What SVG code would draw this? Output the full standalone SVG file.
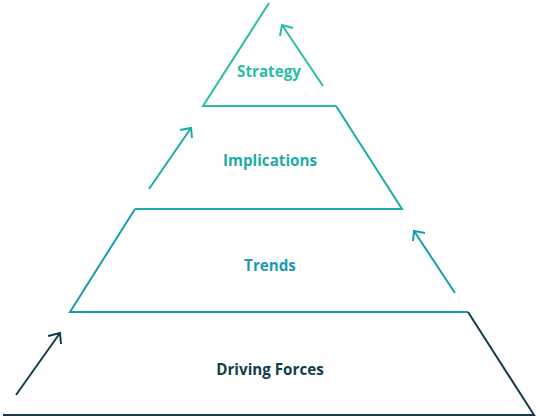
<svg xmlns="http://www.w3.org/2000/svg" width="540" height="420" viewBox="0 0 540 420">
<style>
.ln{fill:none;stroke-width:2;stroke-linecap:butt;stroke-linejoin:miter}
.lbl{font-family:"Open Sans","Noto Sans",sans-serif;font-weight:bold;font-size:15.2px;text-anchor:middle}
.c1{stroke:#2bbda3}.t1{fill:#2bbda3}
.c2{stroke:#1eaba6}.t2{fill:#1eaba6}
.c3{stroke:#1b9bb3}.t3{fill:#1b9bb3}
.c4{stroke:#113e48}.t4{fill:#113e48}
</style>
<rect width="540" height="420" fill="#ffffff"/>
<g id="strategy">
<polyline class="ln c1" points="269,3 203,106 336,106"/>
<text class="lbl t1" x="269" y="77">Strategy</text>
</g>
<g id="implications">
<polyline class="ln c2" points="336,106 402,209 135,209"/>
<text class="lbl t2" x="270" y="166">Implications</text>
</g>
<g id="trends">
<polyline class="ln c3" points="135,209 70,312 468,312"/>
<text class="lbl t3" x="270" y="271">Trends</text>
</g>
<g id="driving-forces">
<polyline class="ln c4" points="468,312 534,415 3,415"/>
<text class="lbl t4" x="270" y="375">Driving Forces</text>
</g>
<g id="connectors">
<path class="ln c1" d="M323,86 L282,25 M293,28 L282,25 L280,36"/>
<path class="ln c2" d="M149,189 L191,128 M180,130 L191,128 L192,138"/>
<path class="ln c3" d="M455,293 L414,231 M425,233 L414,231 L413,241"/>
<path class="ln c4" d="M16,395 L60,333 M48,336 L60,333 L61,344"/>
</g>
</svg>
